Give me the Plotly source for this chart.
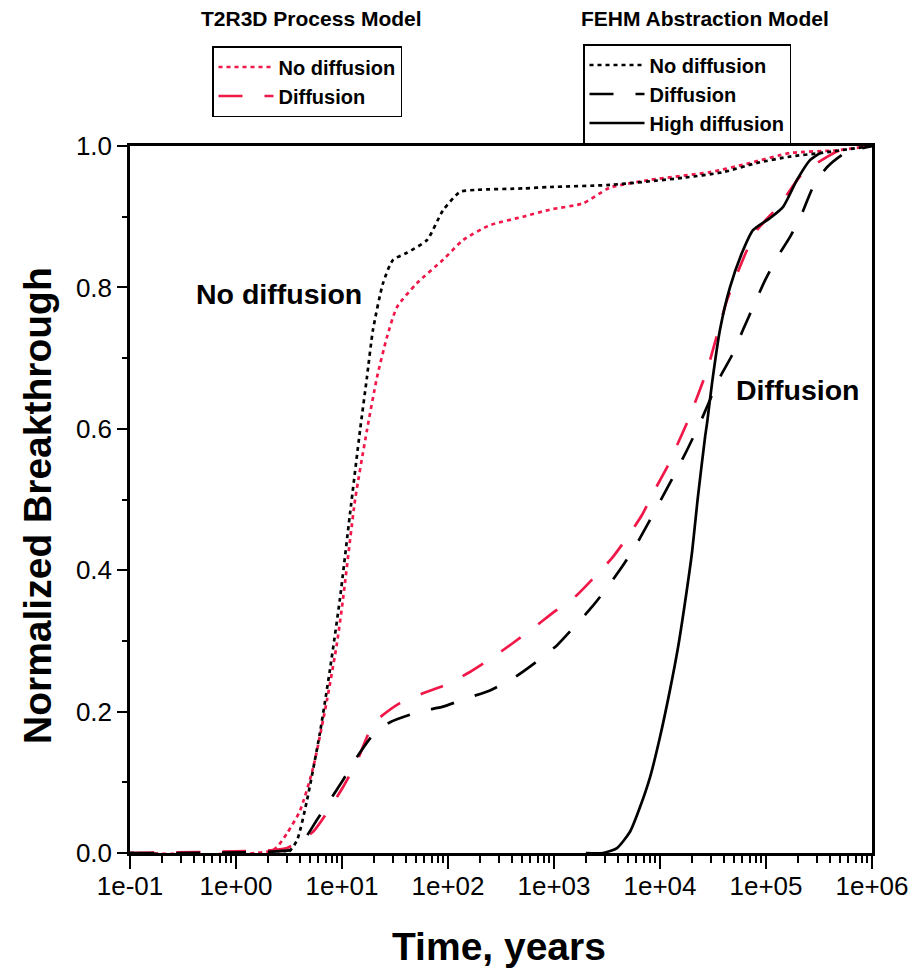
import plotly.graph_objects as go

RED = "#f01848"

# T2R3D process model, no diffusion (red dotted)
t2_nodiff_t = [0.1, 2.23, 3.03, 4.02, 5.33, 7.21, 8.97, 10.2, 13.3, 17.2, 21.4, 26.6, 33.0, 51.0, 89.7,
               139, 249, 511, 916, 1880, 3370, 8050, 29600, 70700, 168000, 468000, 957000]
t2_nodiff_y = [0.0, 0.004, 0.028, 0.06, 0.12, 0.216, 0.297, 0.358, 0.5, 0.598, 0.673, 0.73, 0.772, 0.806, 0.839,
               0.867, 0.888, 0.90, 0.91, 0.919, 0.941, 0.952, 0.963, 0.976, 0.99, 0.994, 1.0]

# T2R3D process model, diffusion (red long dash)
t2_diff_t = [0.1, 2.23, 3.03, 5.33, 7.21, 10.2, 13.9, 17.2, 21.4, 35.2, 58.1, 100, 161, 260, 410, 662, 980,
             1650, 2330, 3520, 4880, 6760, 8590, 11600, 14500, 18400, 27800, 42900, 66200, 82200, 135000,
             223000, 303000, 499000, 957000]
t2_diff_y = [0.0, 0.004, 0.007, 0.03, 0.057, 0.093, 0.13, 0.164, 0.188, 0.212, 0.226, 0.239, 0.256, 0.276, 0.297,
             0.32, 0.34, 0.365, 0.388, 0.417, 0.446, 0.478, 0.509, 0.545, 0.577, 0.612, 0.683, 0.782, 0.853, 0.881,
             0.917, 0.962, 0.976, 0.994, 1.0]

# FEHM abstraction model, no diffusion (black dotted)
fehm_nodiff_t = [0.1, 3.03, 3.76, 4.68, 6.19, 7.71, 9.57, 11.9, 14.8, 17.2, 19.6, 24.4, 30.3, 41.0, 63.4, 89.7,
                 130, 188, 511, 916, 3370, 16500, 39300, 82200, 168000, 323000, 1000000]
fehm_nodiff_y = [0.0, 0.0, 0.018, 0.075, 0.17, 0.26, 0.36, 0.48, 0.598, 0.673, 0.74, 0.806, 0.839, 0.849, 0.867,
                 0.909, 0.935, 0.938, 0.94, 0.942, 0.945, 0.955, 0.963, 0.976, 0.985, 0.99, 1.0]

# FEHM abstraction model, diffusion (black long dash)
fehm_diff_t = [0.1, 3.23, 4.02, 5.81, 7.71, 10.2, 13.9, 19.6, 28.4, 54.4, 89.7, 151, 249, 429, 662, 1070, 1510,
               2280, 3160, 4480, 6070, 8050, 10400, 13900, 18000, 23800, 36800, 47800, 60700, 75400, 97900,
               127000, 168000, 219000, 278000, 376000, 556000, 1000000]
fehm_diff_y = [0.0, 0.004, 0.011, 0.047, 0.075, 0.103, 0.136, 0.167, 0.185, 0.2, 0.207, 0.219, 0.23, 0.249, 0.269,
               0.294, 0.318, 0.348, 0.375, 0.407, 0.438, 0.471, 0.502, 0.537, 0.57, 0.608, 0.673, 0.704, 0.74,
               0.772, 0.81, 0.842, 0.871, 0.905, 0.942, 0.97, 0.99, 1.0]

# FEHM abstraction model, high diffusion (black solid)
fehm_high_t = [2000, 2900, 3930, 5210, 6480, 8050, 10000, 12400, 14800, 17200, 20000, 22800, 26600, 27800,
               31000, 36800, 45700, 59400, 75400, 109000, 145000, 196000, 260000, 323000]
fehm_high_y = [0.0, 0.0, 0.007, 0.03, 0.065, 0.107, 0.164, 0.23, 0.291, 0.354, 0.424, 0.504, 0.588, 0.608,
               0.665, 0.74, 0.8, 0.849, 0.881, 0.898, 0.914, 0.952, 0.98, 0.99]

x_tickvals = [0.1, 1, 10, 100, 1000, 10000, 100000, 1000000]
x_ticktext = ["1e-01", "1e+00", "1e+01", "1e+02", "1e+03", "1e+04", "1e+05", "1e+06"]
y_tickvals = [0.0, 0.2, 0.4, 0.6, 0.8, 1.0]
y_ticktext = ["0.0", "0.2", "0.4", "0.6", "0.8", "1.0"]

FONT = "Liberation Sans, Arial, sans-serif"
OFF = 8  # default page body margin
W, H = 918 - OFF, 969 - OFF
# plot area in window pixels
RL, RR, RT, RB = 130, 872, 146, 853


def px(xp):
    return (xp - RL) / (RR - RL)


def py(yp):
    return (RB - yp) / (RB - RT)


fig = go.Figure()
fig.add_trace(go.Scatter(x=t2_nodiff_t, y=t2_nodiff_y, mode="lines", name="<b>No diffusion</b>",
                         line=dict(color=RED, width=2.7, dash="4px,4px", shape="spline", smoothing=0.6),
                         legend="legend"))
fig.add_trace(go.Scatter(x=t2_diff_t, y=t2_diff_y, mode="lines", name="<b>Diffusion</b>",
                         line=dict(color=RED, width=2.7, dash="24px,22px", shape="spline", smoothing=0.6),
                         legend="legend"))
fig.add_trace(go.Scatter(x=fehm_nodiff_t, y=fehm_nodiff_y, mode="lines", name="<b>No diffusion</b>",
                         line=dict(color="black", width=2.7, dash="4px,4px", shape="spline", smoothing=0.6),
                         legend="legend2"))
fig.add_trace(go.Scatter(x=fehm_diff_t, y=fehm_diff_y, mode="lines", name="<b>Diffusion</b>",
                         line=dict(color="black", width=2.7, dash="24px,22px", shape="spline", smoothing=0.6),
                         legend="legend2"))
fig.add_trace(go.Scatter(x=fehm_high_t, y=fehm_high_y, mode="lines", name="<b>High diffusion</b>",
                         line=dict(color="black", width=2.7, shape="spline", smoothing=0.6),
                         legend="legend2"))

legend_common = dict(bgcolor="white", bordercolor="black", borderwidth=1.5,
                     font=dict(family=FONT, size=20, color="black"),
                     xanchor="left", yanchor="top", tracegroupgap=0, itemwidth=55,
                     xref="container", yref="container")

fig.update_layout(
    width=W, height=H,
    margin=dict(l=RL - OFF, r=918 - RR, t=RT - OFF, b=969 - RB, autoexpand=False),
    plot_bgcolor="white", paper_bgcolor="white",
    font=dict(family=FONT, color="black"),
    showlegend=True,
    legend=dict(x=(212 - OFF) / W, y=1 - (46 - OFF) / H, **legend_common),
    legend2=dict(x=(583 - OFF) / W, y=1 - (44 - OFF) / H, **legend_common),
    xaxis=dict(type="log", range=[-1, 6], showline=True, linecolor="black", linewidth=2.5, mirror=True,
               automargin=False,
               showgrid=False, zeroline=False, ticks="outside", ticklen=13, tickwidth=2, tickcolor="black",
               ticklabelstandoff=-5,
               tickvals=x_tickvals, ticktext=x_ticktext, tickfont=dict(size=26, family=FONT),
               minor=dict(ticks="outside", ticklen=7, tickwidth=1.5, tickcolor="black", dtick="D1", showgrid=False)),
    yaxis=dict(range=[0, 1], showline=True, linecolor="black", linewidth=2.5, mirror=True,
               automargin=False,
               showgrid=False, zeroline=False, ticks="outside", ticklen=10, tickwidth=1.5, tickcolor="black",
               tickvals=y_tickvals, ticktext=y_ticktext, tickfont=dict(size=26, family=FONT),
               minor=dict(ticks="outside", ticklen=5, tickwidth=1.5, tickcolor="black", dtick=0.1, showgrid=False)),
    annotations=[
        dict(text="<b>Time, years</b>", x=px(499), y=py(946), xref="paper", yref="paper",
             showarrow=False, font=dict(size=39, family=FONT, color="black"), xanchor="center", yanchor="middle"),
        dict(text="<b>Normalized Breakthrough</b>", x=px(37), y=py(506), xref="paper", yref="paper",
             textangle=-90,
             showarrow=False, font=dict(size=39, family=FONT, color="black"), xanchor="center", yanchor="middle"),
        dict(text="<b>T2R3D Process Model</b>", x=px(311), y=py(19), xref="paper", yref="paper",
             showarrow=False, font=dict(size=21, family=FONT, color="black"), xanchor="center", yanchor="middle"),
        dict(text="<b>FEHM Abstraction Model</b>", x=px(705), y=py(19), xref="paper", yref="paper",
             showarrow=False, font=dict(size=21, family=FONT, color="black"), xanchor="center", yanchor="middle"),
        dict(text="<b>No diffusion</b>", x=px(279), y=py(294), xref="paper", yref="paper",
             showarrow=False, font=dict(size=28.5, family=FONT, color="black"), xanchor="center", yanchor="middle"),
        dict(text="<b>Diffusion</b>", x=px(797), y=py(390), xref="paper", yref="paper",
             showarrow=False, font=dict(size=28.5, family=FONT, color="black"), xanchor="center", yanchor="middle"),
    ],
)

fig.write_html("out.html")
